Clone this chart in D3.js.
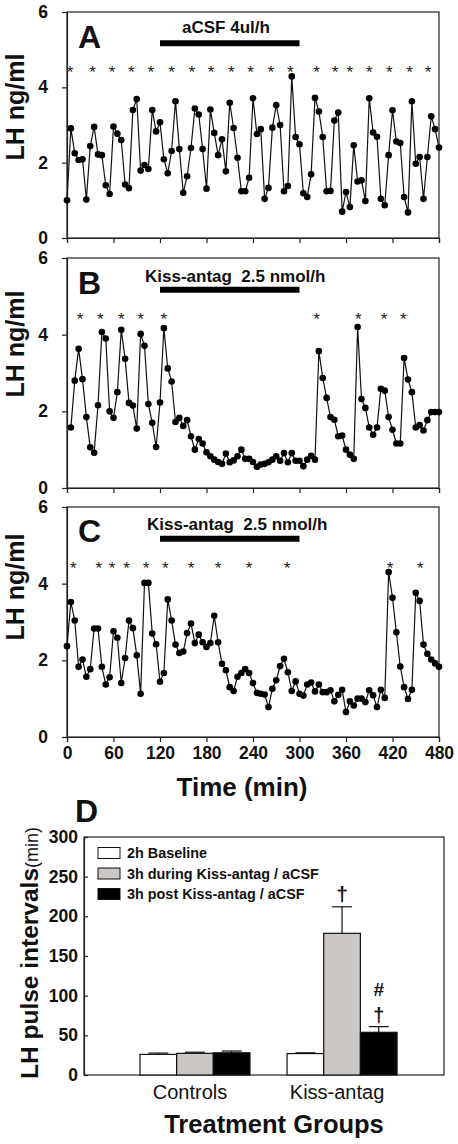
<!DOCTYPE html>
<html><head><meta charset="utf-8">
<script src="https://cdn.jsdelivr.net/npm/d3@7"></script>
<style>
body{margin:0;background:#fff;}
svg{display:block;font-family:"Liberation Sans",Arial,Helvetica,sans-serif;}
</style></head><body>
<svg id="c" width="458" height="1144"></svg>
<script>
// ---- Panel A-C data: LH (ng/ml) sampled every 5 min ----
const lhA = [1.0,2.91,2.25,2.07,2.09,1.02,2.44,2.95,2.22,2.2,1.40,1.17,2.96,2.77,2.6,1.42,1.32,3.40,3.69,1.79,1.94,1.83,3.40,2.83,3.07,2.09,1.72,2.31,3.63,2.36,1.2,1.64,2.39,3.44,3.28,2.36,1.31,3.41,2.79,2.2,2.62,1.77,3.59,2.92,2.13,1.24,
  1.24,1.6,3.71,2.76,2.89,1.04,1.33,2.93,3.53,3.0,1.24,1.38,4.29,2.68,2.49,1.19,1.09,1.69,3.72,3.36,2.68,1.24,1.25,3.12,3.33,0.70,1.22,0.82,2.46,1.5,1.53,0.98,3.71,2.8,2.69,1.04,0.87,2.2,3.39,2.56,2.52,1.09,0.68,3.63,1.97,2.15,1.04,2.15,3.23,2.89,2.4];
const lhB = [1.58,2.80,3.63,2.84,1.85,1.06,0.92,2.16,4.07,3.90,2.0,1.83,2.50,4.13,3.37,2.22,2.15,1.55,4.02,3.71,2.19,1.70,1.07,2.23,4.17,3.12,2.78,1.72,1.83,1.62,1.77,1.35,1.0,1.28,1.16,0.93,0.83,0.74,0.68,0.63,0.90,0.67,0.72,0.83,1.0,0.76,
  0.76,0.68,0.55,0.61,0.63,0.67,0.74,0.83,0.71,0.91,0.67,0.91,0.71,0.71,0.57,0.74,0.84,0.74,3.57,2.87,2.35,1.85,1.78,1.35,1.37,1.0,0.87,0.76,4.20,2.32,2.09,1.58,1.39,1.58,2.59,2.54,1.85,1.52,1.16,1.16,3.39,2.83,2.50,1.58,1.64,1.50,1.77,1.98,1.98,1.98];
const lhC = [2.37,3.52,3.04,1.83,2.02,1.57,1.77,2.83,2.83,1.83,1.37,1.56,2.76,2.59,1.41,2.06,3.04,2.84,2.13,1.13,4.02,4.02,2.70,2.42,1.44,1.67,3.59,3.04,2.41,2.19,2.23,2.71,2.96,2.45,2.67,2.47,2.35,2.45,3.16,2.47,1.91,1.74,1.30,1.20,1.57,1.67,1.77,
  1.67,1.41,1.15,1.13,1.11,0.78,1.26,1.48,1.85,2.04,1.69,1.20,1.45,1.13,1.08,1.37,1.42,1.19,1.37,1.17,1.17,1.22,0.93,1.10,1.23,0.65,0.93,0.82,1.0,1.0,0.91,1.22,1.09,0.78,1.23,1.02,4.30,3.63,2.73,1.84,1.30,0.99,1.23,3.76,3.55,2.41,2.17,2.02,1.92,1.83];
const timeA = d3.range(0, 481, 5);
const timeB = d3.range(5, 481, 5);
const timeC = d3.range(0, 481, 5);
// pulse markers (*) times in min
const pulsesA = [4,33,58,83,108,135,161,186,212,237,263,288,322,346,365,390,416,442,466];
const pulsesB = [17,43,70,95,125,322,376,409,434];
const pulsesC = [8,41,58,77,102,127,160,195,235,284,417,456];
const pulseLevel = 4.5;
const timeTicks = [0,60,120,180,240,300,360,420,480];
const lhTicks = [0,2,4,6];
const panelLetters = ["A","B","C"];
const treatmentLabels = ["aCSF 4ul/h","Kiss-antag  2.5 nmol/h","Kiss-antag  2.5 nmol/h"];
const infusion = [120, 300];
const infusionLevel = 5.17;

// ---- Panel D data ----
const groups = ["Controls","Kiss-antag"];
const periods = ["2h Baseline","3h during Kiss-antag / aCSF","3h post Kiss-antag / aCSF"];
const meanBaseline = [26, 27];
const meanDuring = [27.3, 178.6];
const meanPost = [28, 53.8];
const semBaseline = [1.6, 1.0];
const semDuring = [1.4, 33.4];
const semPost = [2.2, 7.2];
const intervalTicks = [0,50,100,150,200,250,300];
const periodColors = ["#ffffff","#cac7c4","#000000"];

const svg = d3.select("#c");
const FONT_B = "bold";

const x = d3.scaleLinear().domain([0,480]).range([67,439]);

const panels = [
  {lh: lhA, t: timeA, pulses: pulsesA, top: 12, bottom: 238, letterY: 48, labelX: 182, labelY: 33, titleY: 107},
  {lh: lhB, t: timeB, pulses: pulsesB, top: 258, bottom: 488, letterY: 294, labelX: 145, labelY: 282, titleY: 344},
  {lh: lhC, t: timeC, pulses: pulsesC, top: 507, bottom: 737, letterY: 542, labelX: 147, labelY: 530, titleY: 587}
];

panels.forEach((p, i) => {
  const y = d3.scaleLinear().domain([0,6]).range([p.bottom, p.top]);
  const g = svg.append("g");
  g.append("rect").attr("x", x(0)).attr("y", y(6)).attr("width", x(480)-x(0)).attr("height", y(0)-y(6))
    .attr("fill","none").attr("stroke","#222").attr("stroke-width",1.2);
  const ya = g.append("g").attr("transform",`translate(${x(0)},0)`)
    .call(d3.axisLeft(y).tickValues(lhTicks).tickFormat(d3.format("d")).tickSize(5).tickPadding(14));
  ya.select(".domain").attr("stroke","#222").attr("stroke-width",1.2);
  ya.selectAll("line").attr("stroke","#222").attr("stroke-width",1.2);
  ya.selectAll("text").attr("font-size",17.5).attr("font-weight",FONT_B).attr("fill","#111").attr("font-family",null);
  const xa = g.append("g").attr("transform",`translate(0,${y(0)})`)
    .call(d3.axisBottom(x).tickValues(timeTicks).tickSize(5).tickPadding(5));
  xa.select(".domain").attr("stroke","#222").attr("stroke-width",1.2);
  xa.selectAll("line").attr("stroke","#222").attr("stroke-width",1.2);
  xa.selectAll("text").attr("font-size",17.5).attr("font-weight",FONT_B).attr("fill","#111").attr("font-family",null);
  if (i < 2) xa.selectAll("text").remove();
  g.append("text").attr("transform",`translate(24,${p.titleY}) rotate(-90)`).attr("text-anchor","middle")
    .attr("font-size",25).attr("font-weight",FONT_B).attr("fill","#111").text("LH ng/ml");
  g.append("text").attr("x",78).attr("y",p.letterY).attr("font-size",32).attr("font-weight",FONT_B).attr("fill","#111").text(panelLetters[i]);
  g.append("text").attr("x",p.labelX).attr("y",p.labelY).attr("font-size",17).attr("font-weight",FONT_B)
    .attr("fill","#111").style("white-space","pre").text(treatmentLabels[i]);
  g.append("line").attr("x1",x(infusion[0])).attr("x2",x(infusion[1])).attr("y1",y(infusionLevel)).attr("y2",y(infusionLevel))
    .attr("stroke","#000").attr("stroke-width",6);
  g.selectAll("text.star").data(p.pulses).join("text").attr("class","star")
    .attr("x", d => x(d)).attr("y", y(pulseLevel)+9).attr("text-anchor","middle")
    .attr("font-size",17).attr("fill","#222").text("*");
  const pts = p.lh.map((v,k) => [p.t[k], v]);
  g.append("path").datum(pts).attr("fill","none").attr("stroke","#111").attr("stroke-width",1.2)
    .attr("d", d3.line().x(d => x(d[0])).y(d => y(d[1])));
  g.selectAll("circle").data(pts).join("circle").attr("cx", d => x(d[0])).attr("cy", d => y(d[1]))
    .attr("r",3.3).attr("fill","#000");
});

svg.append("text").attr("x",242).attr("y",796).attr("text-anchor","middle").attr("font-size",26)
  .attr("font-weight",FONT_B).attr("fill","#111").text("Time (min)");

// ---- Panel D ----
const yD = d3.scaleLinear().domain([0,300]).range([1075,837]);
const xD = d3.scaleBand().domain(groups).range([84,444]).paddingInner(0.252).paddingOuter(0.35).align(0.544);
const xP = d3.scaleBand().domain(periods).range([0, xD.bandwidth()]);
const gD = svg.append("g");
gD.append("text").attr("x",75).attr("y",822).attr("font-size",32).attr("font-weight",FONT_B).attr("fill","#111").text("D");
gD.append("rect").attr("x",84).attr("y",yD(300)).attr("width",444-84).attr("height",yD(0)-yD(300))
  .attr("fill","none").attr("stroke","#222").attr("stroke-width",1.2);
const yaD = gD.append("g").attr("transform","translate(84,0)")
  .call(d3.axisLeft(yD).tickValues(intervalTicks).tickSize(-4).tickPadding(6));
yaD.select(".domain").attr("stroke","#222").attr("stroke-width",1.2);
yaD.selectAll("line").attr("stroke","#222").attr("stroke-width",1.2);
yaD.selectAll("text").attr("font-size",17.5).attr("font-weight",FONT_B).attr("fill","#111").attr("font-family",null);

const means = [meanBaseline, meanDuring, meanPost];
const sems = [semBaseline, semDuring, semPost];
const barData = [];
groups.forEach((gname, gi) => periods.forEach((pname, pi) => {
  barData.push({g: gname, p: pname, pi, mean: means[pi][gi], sem: sems[pi][gi]});
}));
const cxOf = d => xD(d.g) + xP(d.p) + xP.bandwidth()/2;
barData.forEach(d => {
  const cx = cxOf(d);
  gD.append("line").attr("x1",cx).attr("x2",cx).attr("y1",yD(d.mean)).attr("y2",yD(d.mean+d.sem)).attr("stroke","#111").attr("stroke-width",1.2);
  gD.append("line").attr("x1",cx-10).attr("x2",cx+10).attr("y1",yD(d.mean+d.sem)).attr("y2",yD(d.mean+d.sem)).attr("stroke","#111").attr("stroke-width",1.2);
});
gD.selectAll("rect.bar").data(barData).join("rect").attr("class","bar")
  .attr("x", d => xD(d.g) + xP(d.p)).attr("width", xP.bandwidth())
  .attr("y", d => yD(d.mean)).attr("height", d => yD(0) - yD(d.mean))
  .attr("fill", d => periodColors[d.pi]).attr("stroke","#111").attr("stroke-width",1.2);

const kissDuring = barData.find(d => d.g === "Kiss-antag" && d.pi === 1);
const kissPost = barData.find(d => d.g === "Kiss-antag" && d.pi === 2);
gD.append("text").attr("x",cxOf(kissDuring)).attr("y",yD(kissDuring.mean+kissDuring.sem)-6).attr("text-anchor","middle")
  .attr("font-size",21).attr("font-weight",FONT_B).attr("fill","#111").text("†");
gD.append("text").attr("x",cxOf(kissPost)).attr("y",yD(kissPost.mean+kissPost.sem)-31).attr("text-anchor","middle")
  .attr("font-size",19).attr("font-weight",FONT_B).attr("fill","#111").text("#");
gD.append("text").attr("x",cxOf(kissPost)).attr("y",yD(kissPost.mean+kissPost.sem)-5).attr("text-anchor","middle")
  .attr("font-size",20).attr("font-weight",FONT_B).attr("fill","#111").text("†");

periods.forEach((pname, pi) => {
  const cy = 853 + pi*20.5;
  gD.append("rect").attr("x",98).attr("y",cy-5.5).attr("width",22).attr("height",11)
    .attr("fill",periodColors[pi]).attr("stroke","#111").attr("stroke-width",1);
  gD.append("text").attr("x",127).attr("y",cy+5).attr("font-size",14.4).attr("font-weight",FONT_B).attr("fill","#111").text(pname);
});

groups.forEach(gname => {
  gD.append("text").attr("x", xD(gname) + xD.bandwidth()/2 - 5).attr("y",1099).attr("text-anchor","middle")
    .attr("font-size",20).attr("fill","#111").text(gname);
});
gD.append("text").attr("x",274).attr("y",1133).attr("text-anchor","middle").attr("font-size",25.5)
  .attr("font-weight",FONT_B).attr("fill","#111").text("Treatment Groups");
const yt = gD.append("text").attr("transform","translate(38,953) rotate(-90)").attr("text-anchor","middle").attr("fill","#111");
yt.append("tspan").attr("font-size",24.5).attr("font-weight",FONT_B).text("LH pulse intervals");
yt.append("tspan").attr("font-size",18).text("(min)");
</script>
</body></html>
